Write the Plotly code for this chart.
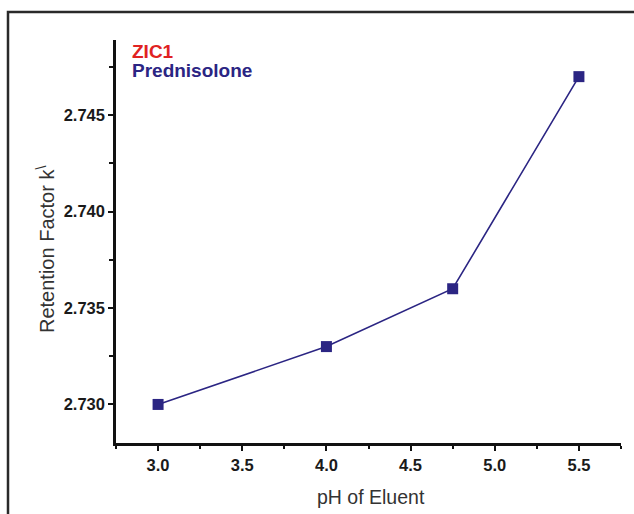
import plotly.graph_objects as go

ph = [3.0, 4.0, 4.75, 5.5]
k_values = [2.730, 2.733, 2.736, 2.747]
x_ticks = [3.0, 3.5, 4.0, 4.5, 5.0, 5.5]
y_ticks = [2.730, 2.735, 2.740, 2.745]

navy = "#2b2583"
L, R, T, B = 116, 621, 40, 443
PW, PH = R - L, B - T

def px(x):
    return (x - L) / PW

def py(y):
    return (B - y) / PH

fig = go.Figure()
fig.add_trace(go.Scatter(
    x=ph, y=k_values, mode="lines+markers",
    line=dict(color=navy, width=1.6),
    marker=dict(symbol="square", size=11, color=navy),
    showlegend=False, cliponaxis=False,
))

tickfont = dict(size=16.5, family="Liberation Sans, Arial", color="#1a1a1a", weight="bold")
fig.update_layout(
    width=634, height=514,
    margin=dict(l=L, r=634 - R, t=T, b=514 - B),
    paper_bgcolor="white", plot_bgcolor="white",
    font=dict(family="Liberation Sans, Arial", color="#222"),
    xaxis=dict(
        range=[2.75, 5.75], tickvals=x_ticks,
        ticktext=[f"{v:.1f}" for v in x_ticks],
        showgrid=False, zeroline=False,
        showline=True, linecolor="#111", linewidth=2.5,
        ticks="outside", ticklen=5, tickwidth=2, tickcolor="#111",
        tickfont=tickfont,
        minor=dict(tickvals=[2.75, 3.25, 3.75, 4.25, 4.75, 5.25, 5.75], ticks="outside", ticklen=3, tickwidth=2, tickcolor="#111"),
    ),
    yaxis=dict(
        range=[2.728, 2.7489], tickvals=y_ticks,
        ticktext=[f"{v:.3f}" for v in y_ticks],
        showgrid=False, zeroline=False,
        showline=True, linecolor="#111", linewidth=2.5,
        ticks="outside", ticklen=5, tickwidth=2, tickcolor="#111",
        tickfont=tickfont,
        minor=dict(tickvals=[2.7275, 2.7325, 2.7375, 2.7425, 2.7475], ticks="outside", ticklen=4, tickwidth=2, tickcolor="#111"),
    ),
    shapes=[dict(type="rect", xref="paper", yref="paper",
                 x0=px(8), x1=1.1, y0=-0.3, y1=py(12),
                 line=dict(color="#2a2a2a", width=2.5), layer="below")],
    annotations=[
        dict(text="pH of Eluent", x=px(371), y=py(497), xref="paper", yref="paper",
             xanchor="center", yanchor="middle", showarrow=False,
             font=dict(size=19.5, color="#333", family="Liberation Sans, Arial")),
        dict(text="Retention Factor k<sup>\\</sup>", x=px(45), y=py(250), xref="paper", yref="paper",
             xanchor="center", yanchor="middle", showarrow=False, textangle=-90,
             font=dict(size=20, color="#333", family="Liberation Sans, Arial")),
        dict(text="<b>ZIC1</b>", x=px(130), y=py(51), xref="paper", yref="paper",
             xanchor="left", yanchor="middle", showarrow=False,
             font=dict(size=19, color="#e02222", family="Liberation Sans, Arial")),
        dict(text="<b>Prednisolone</b>", x=px(130), y=py(71), xref="paper", yref="paper",
             xanchor="left", yanchor="middle", showarrow=False,
             font=dict(size=19, color=navy, family="Liberation Sans, Arial")),
    ],
)

fig.write_html("out.html")
